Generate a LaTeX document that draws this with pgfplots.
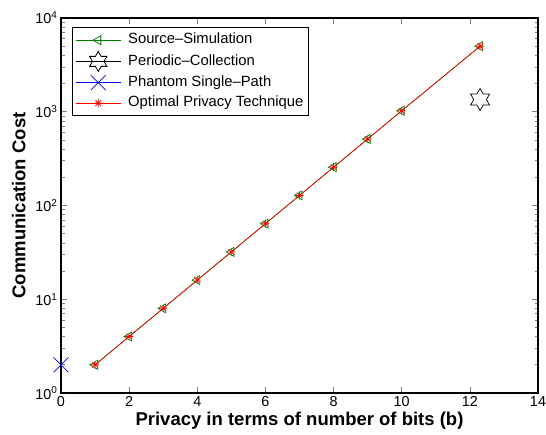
\documentclass[border=0pt]{standalone}
\usepackage{pgfplots}
\pgfplotsset{compat=1.18}
\usepackage{fontspec}
\setmainfont{Liberation Sans}
\pgfdeclareplotmark{hexagram}{%
  \pgfpathmoveto{\pgfpointpolar{90}{\pgfplotmarksize}}%
  \pgfpathlineto{\pgfpointpolar{120}{0.577\pgfplotmarksize}}%
  \pgfpathlineto{\pgfpointpolar{150}{\pgfplotmarksize}}%
  \pgfpathlineto{\pgfpointpolar{180}{0.577\pgfplotmarksize}}%
  \pgfpathlineto{\pgfpointpolar{210}{\pgfplotmarksize}}%
  \pgfpathlineto{\pgfpointpolar{240}{0.577\pgfplotmarksize}}%
  \pgfpathlineto{\pgfpointpolar{270}{\pgfplotmarksize}}%
  \pgfpathlineto{\pgfpointpolar{300}{0.577\pgfplotmarksize}}%
  \pgfpathlineto{\pgfpointpolar{330}{\pgfplotmarksize}}%
  \pgfpathlineto{\pgfpointpolar{0}{0.577\pgfplotmarksize}}%
  \pgfpathlineto{\pgfpointpolar{30}{\pgfplotmarksize}}%
  \pgfpathlineto{\pgfpointpolar{60}{0.577\pgfplotmarksize}}%
  \pgfpathclose
  \pgfusepathqstroke
}
\pgfdeclareplotmark{mstar}{%
  \pgfpathmoveto{\pgfqpoint{-\pgfplotmarksize}{0pt}}\pgfpathlineto{\pgfqpoint{\pgfplotmarksize}{0pt}}%
  \pgfpathmoveto{\pgfqpoint{0pt}{-\pgfplotmarksize}}\pgfpathlineto{\pgfqpoint{0pt}{\pgfplotmarksize}}%
  \pgfpathmoveto{\pgfqpoint{-.707\pgfplotmarksize}{-.707\pgfplotmarksize}}\pgfpathlineto{\pgfqpoint{.707\pgfplotmarksize}{.707\pgfplotmarksize}}%
  \pgfpathmoveto{\pgfqpoint{-.707\pgfplotmarksize}{.707\pgfplotmarksize}}\pgfpathlineto{\pgfqpoint{.707\pgfplotmarksize}{-.707\pgfplotmarksize}}%
  \pgfusepathqstroke
}
\definecolor{mgreen}{RGB}{0,128,0}
\begin{document}
\begin{tikzpicture}
\begin{axis}[
  scale only axis,
  width=477pt, height=375pt,
  xmin=0, xmax=14, ymin=1, ymax=10000,
  ymode=log,
  xtick={0,2,4,6,8,10,12,14},
  ytick={1,10,100,1000,10000},
  yticklabels={10\textsuperscript{0},10\textsuperscript{1},10\textsuperscript{2},10\textsuperscript{3},10\textsuperscript{4}},
  /pgf/number format/assume math mode=true,
  tick align=inside,
  tick pos=both,
  major tick length=6pt,
  minor tick length=3.5pt,
  tick style={line width=0.6pt},
  tick label style={font=\fontsize{14.4}{16}\selectfont},
  xlabel={\bfseries Privacy in terms of number of bits (b)},
  ylabel={\bfseries Communication Cost},
  label style={font=\fontsize{18.5}{20}\selectfont},
  xlabel style={yshift=1pt},
  ylabel style={yshift=3pt},
  legend style={at={(0.023,0.976)}, anchor=north west, font=\fontsize{14.8}{16}\selectfont,
    draw=black, line width=0.8pt, inner xsep=3pt, inner ysep=3.5pt, row sep=2pt,
    nodes={inner sep=2pt, text height=11pt, text depth=3.5pt},
    /tikz/every odd column/.append style={column sep=5pt}},
  legend cell align=left,
  legend image code/.code={%
    \draw[mark repeat=2,mark phase=2,line width=0.8pt] plot coordinates {(0pt,0pt) (22.5pt,0pt) (45pt,0pt)};},
  every axis plot/.append style={line width=0.7pt},
  axis line style={line width=1.1pt},
]
\addplot[color=mgreen, mark=triangle, mark size=5.2pt, mark options={rotate=90, solid}] coordinates {
(1,2) (2,4) (3,8) (4,16) (5,32) (6,64) (7,128) (8,256) (9,512) (10,1024) (12.3,5000)
};
\addlegendentry{Source--Simulation}
\addplot[color=black, mark=hexagram, mark size=11pt, legend image post style={mark size=10pt}] coordinates {
(12.3,1350)
};
\addlegendentry{Periodic--Collection}
\addplot[color=blue, mark=x, mark size=10.5pt] coordinates {
(0,2)
};
\addlegendentry{Phantom Single--Path}
\addplot[color=red, mark=mstar, mark size=4pt] coordinates {
(1,2) (2,4) (3,8) (4,16) (5,32) (6,64) (7,128) (8,256) (9,512) (10,1024) (12.3,5000)
};
\addlegendentry{Optimal Privacy Technique}
\end{axis}
\pgfresetboundingbox
\path ([shift={(-61pt,-42pt)}]current axis.south west) rectangle ([shift={(8pt,18pt)}]current axis.north east);
\end{tikzpicture}
\end{document}
